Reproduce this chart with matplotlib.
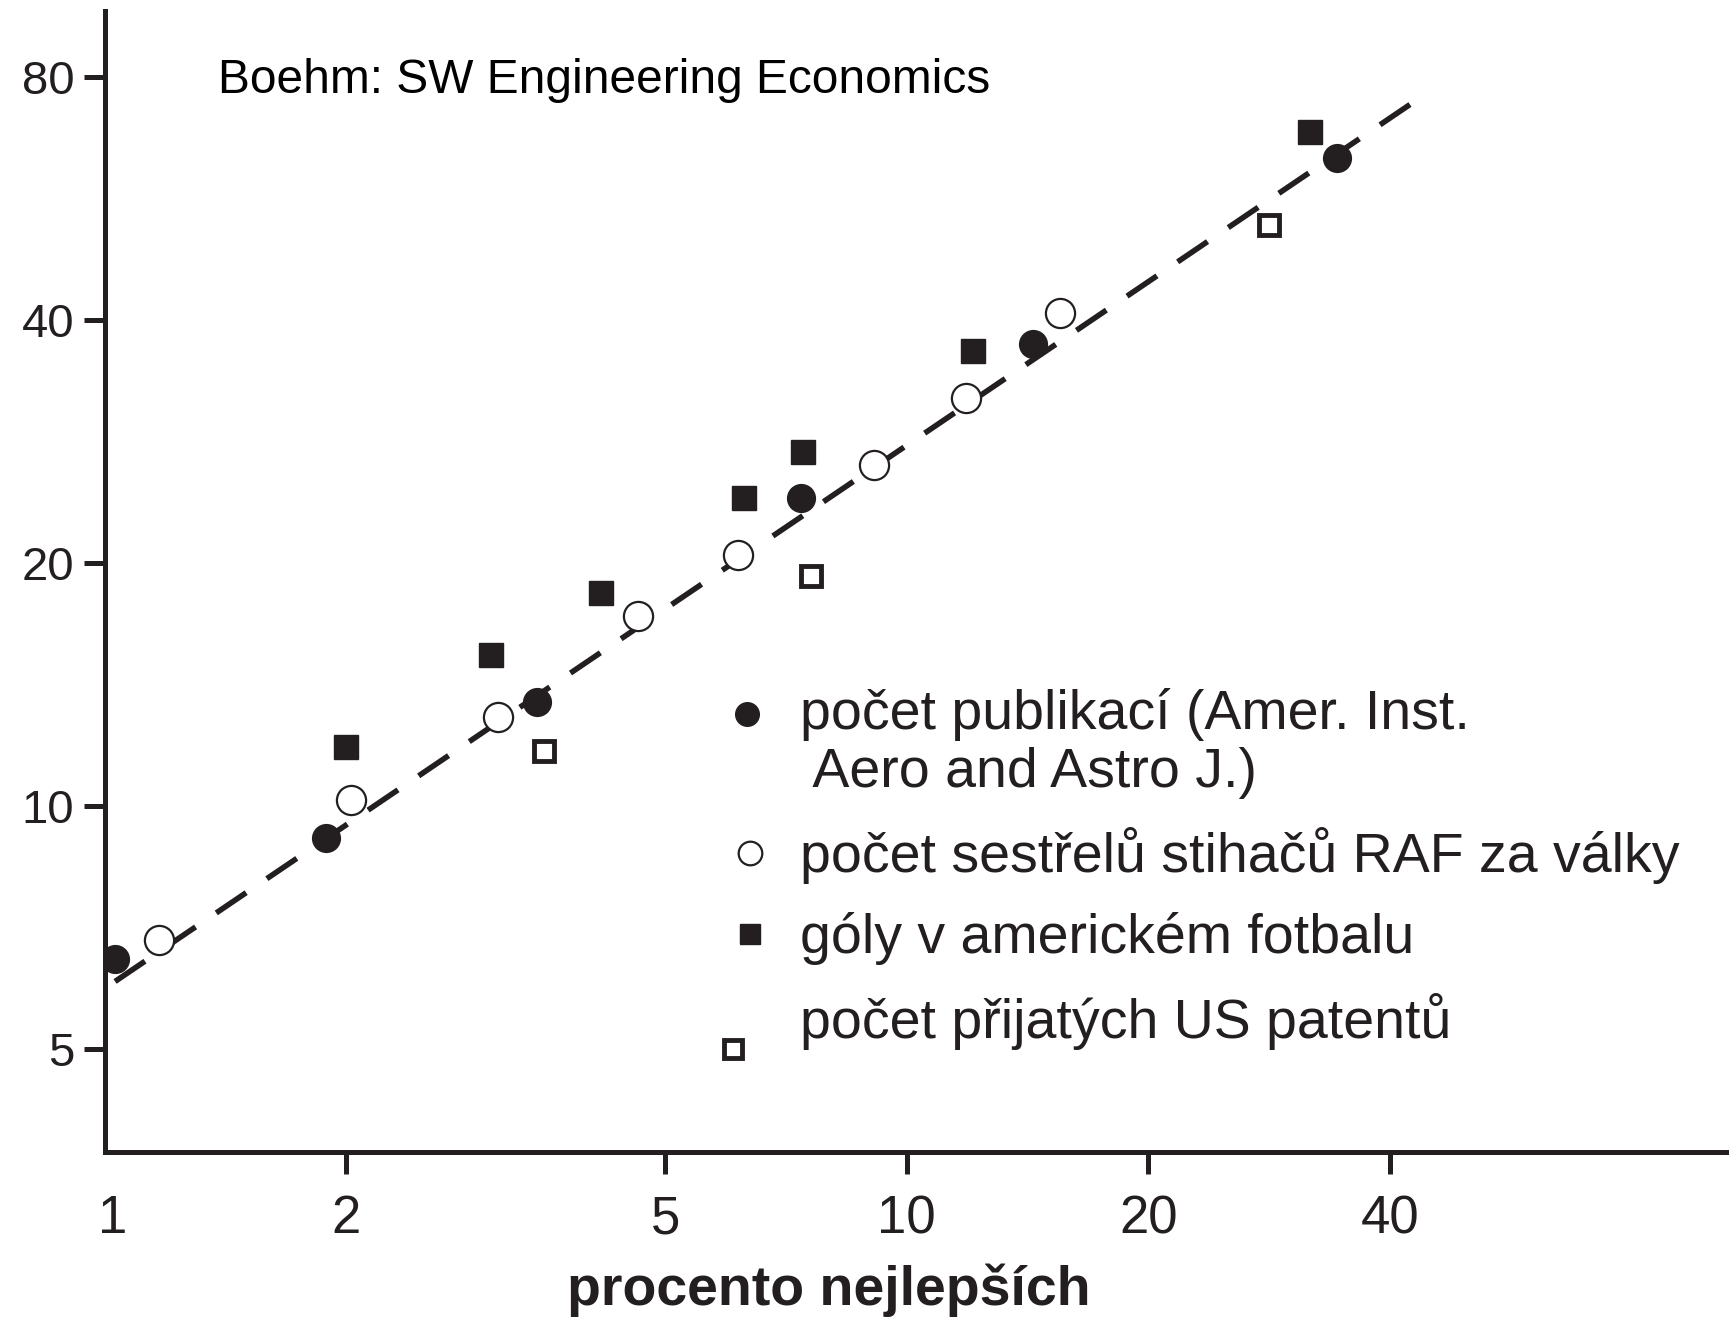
import matplotlib
matplotlib.use("Agg")
import numpy as np
import matplotlib.pyplot as plt
import matplotlib.transforms as mtransforms
from matplotlib.lines import Line2D

# data
pub_x = [1.03, 1.89, 3.46, 7.38, 14.35, 34.4]
pub_y = [6.46, 9.13, 13.44, 24.06, 37.4, 63.6]

raf_x = [1.17, 2.03, 3.09, 4.62, 6.16, 9.09, 11.87, 15.53]
raf_y = [6.83, 10.16, 12.9, 17.18, 20.5, 26.5, 32.0, 40.8]

goly_x = [2.0, 3.03, 4.16, 6.26, 7.42, 12.09, 31.8]
goly_y = [11.82, 15.39, 18.35, 24.06, 27.46, 36.6, 68.4]

pat_x = [3.53, 7.59, 28.3]
pat_y = [11.7, 19.3, 52.5]

trend_x = [1.03, 42.7]
trend_y = [6.06, 74.4]

x_ticks = [1, 2, 5, 10, 20, 40]
y_ticks = [5, 10, 20, 40, 80]

labels = ["počet publikací (Amer. Inst.\n Aero and Astro J.)",
          "počet sestřelů stihačů RAF za války",
          "góly v americkém fotbalu",
          "počet přijatých US patentů"]

ink = "#231f20"
narrow = ["Liberation Sans Narrow", "Liberation Sans", "DejaVu Sans"]
plt.rcParams["font.family"] = ["Liberation Sans", "DejaVu Sans"]

fig = plt.figure(figsize=(17.29, 13.19), dpi=100)
ax = fig.add_axes([0.0606, 0.1263, 0.9394, 0.8653])

line, = ax.plot(trend_x, trend_y, color=ink, lw=4)
line.set_dashes((6.5, 4.5))

ax.plot(pub_x, pub_y, "o", color=ink, ms=20, ls="none")
ax.plot(raf_x, raf_y, "o", mfc="white", mec=ink, mew=1.6, ms=21, ls="none")
ax.plot(goly_x, goly_y, "s", color=ink, ms=17, ls="none")
ax.plot(pat_x, pat_y, "s", mfc="white", mec=ink, mew=3.5, ms=15, ls="none")

ax.set_xscale("log")
ax.set_yscale("log")
ax.set_xlim(1, 106)
ax.set_ylim(3.72, 96.7)

ax.set_xticks(x_ticks)
ax.set_xticklabels([str(t) for t in x_ticks], family=narrow, fontsize=38)
ax.set_yticks(y_ticks)
ax.set_yticklabels([str(t) for t in y_ticks], fontsize=34)
ax.minorticks_off()
ax.tick_params(axis="x", length=16, width=3.6, color=ink, pad=14, labelcolor=ink)
ax.tick_params(axis="y", length=15, width=3.6, color=ink, pad=7, labelcolor=ink)
first = ax.xaxis.get_major_ticks()[0]
first.tick1line.set_visible(False)
first.label1.set_transform(first.label1.get_transform() +
                           mtransforms.ScaledTranslation(6 / 72, 0, fig.dpi_scale_trans))

for s in ["top", "right"]:
    ax.spines[s].set_visible(False)
for s in ["left", "bottom"]:
    ax.spines[s].set_linewidth(3.6)
    ax.spines[s].set_color(ink)

ax.set_xlabel("procento nejlepších", family=narrow, fontweight="bold",
              fontsize=40, color=ink, va="center")
ax.xaxis.set_label_coords(0.446, -0.121)

ax.text(0.070, 0.939, "Boehm: SW Engineering Economics", transform=ax.transAxes,
        fontsize=34.5, va="center", ha="left", color="black")

handles = [
    Line2D([], [], marker="o", ls="none", color=ink, ms=17),
    Line2D([], [], marker="o", ls="none", mfc="white", mec=ink, mew=1.6, ms=17),
    Line2D([], [], marker="s", ls="none", color=ink, ms=15),
    Line2D([], [], marker="s", ls="none", mfc="white", mec=ink, mew=3.5, ms=13),
]
leg = ax.legend(handles, labels, loc="upper left", bbox_to_anchor=(0.3734, 0.426),
                frameon=False, fontsize=40, handlelength=0.6, handletextpad=0.6,
                labelspacing=0.5, borderaxespad=0)
for t in leg.get_texts():
    t.set_family(narrow)
    t.set_color(ink)
    t.set_linespacing(1.15)

# nudge keys like the original: first sits on its first text line,
# the patent key hangs a bit lower and left
key_shift = [(-2, 22), (0, 0), (0, 0), (-12, -22)]
for h, (dx, dy) in zip(leg.legend_handles, key_shift):
    h.set_xdata(np.asarray(h.get_xdata()) + dx)
    h.set_ydata(np.asarray(h.get_ydata()) + dy)

fig.savefig("out.png", dpi=100)
